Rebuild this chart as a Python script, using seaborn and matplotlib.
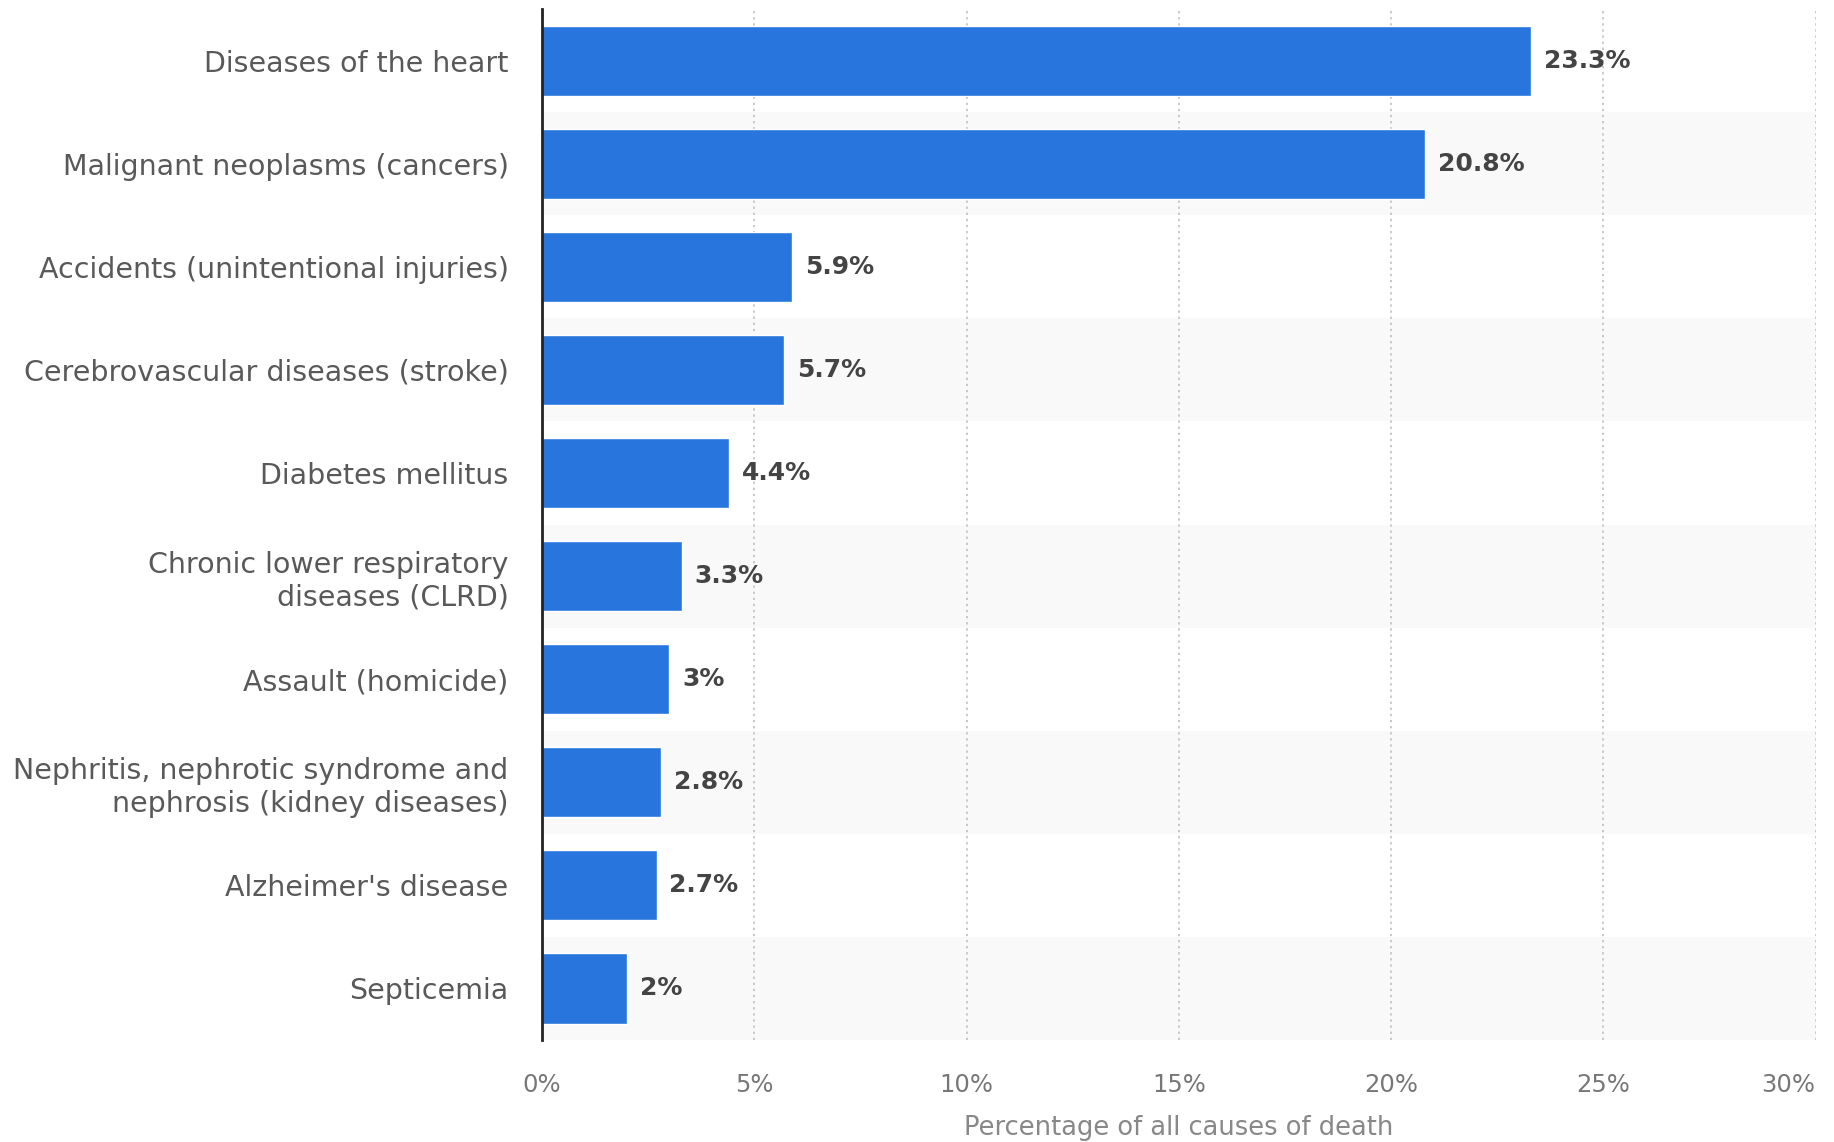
import matplotlib
matplotlib.use("Agg")
import matplotlib.pyplot as plt
import seaborn as sns
import pandas as pd
from matplotlib.ticker import FuncFormatter

causes = [
    "Diseases of the heart",
    "Malignant neoplasms (cancers)",
    "Accidents (unintentional injuries)",
    "Cerebrovascular diseases (stroke)",
    "Diabetes mellitus",
    "Chronic lower respiratory\ndiseases (CLRD)",
    "Assault (homicide)",
    "Nephritis, nephrotic syndrome and\nnephrosis (kidney diseases)",
    "Alzheimer's disease",
    "Septicemia",
]
shares = [23.3, 20.8, 5.9, 5.7, 4.4, 3.3, 3.0, 2.8, 2.7, 2.0]
x_ticks = [0, 5, 10, 15, 20, 25, 30]

df = pd.DataFrame({"cause": causes, "share": shares})

sns.set_theme(style="white")
plt.rcParams["font.family"] = ["DejaVu Sans"]

fig = plt.figure(figsize=(18.34, 11.42), dpi=100)
ax = fig.add_axes([0.2955, 0.0893, 0.6945, 0.9027])

bar_color = "#2876dd"
sns.barplot(data=df, x="share", y="cause", orient="h", color=bar_color,
            width=0.68, saturation=1, ax=ax, zorder=3)

# alternating row shading
for i in range(len(causes)):
    if i % 2 == 1:
        ax.axhspan(i - 0.5, i + 0.5, color="#f9f9f9", zorder=0, lw=0)

ax.set_xlim(0, 30)
ax.set_ylim(len(causes) - 0.5, -0.5)
ax.set_xticks(x_ticks)
ax.xaxis.set_major_formatter(FuncFormatter(lambda v, _: f"{v:g}%"))

ax.grid(axis="x", color="#bbbbbb", linestyle=(0, (1.5, 2.5)), linewidth=1.1, zorder=1)
ax.grid(axis="y", visible=False)
for s in ["top", "right", "bottom"]:
    ax.spines[s].set_visible(False)
ax.spines["left"].set_color("#222222")
ax.spines["left"].set_linewidth(2)
ax.spines["left"].set_zorder(4)

ax.tick_params(axis="y", length=0, pad=24, labelsize=20.5, labelcolor="#595959")
ax.tick_params(axis="x", length=0, pad=24, labelsize=17.5, labelcolor="#777777")
for lbl in ax.get_yticklabels():
    lbl.set_horizontalalignment("right")
    lbl.set_multialignment("right")
    lbl.set_linespacing(1.2)
# keep the last x tick label inside the figure
ax.get_xticklabels()[-1].set_horizontalalignment("right")

ax.set_ylabel("")
ax.set_xlabel("Percentage of all causes of death", fontsize=18.5, color="#888888", labelpad=13)

for i, v in enumerate(shares):
    ax.text(v + 0.3, i, f"{v:g}%", va="center", ha="left", fontsize=18,
            fontweight="bold", color="#444444", zorder=5)

fig.savefig("out.png", dpi=100)
